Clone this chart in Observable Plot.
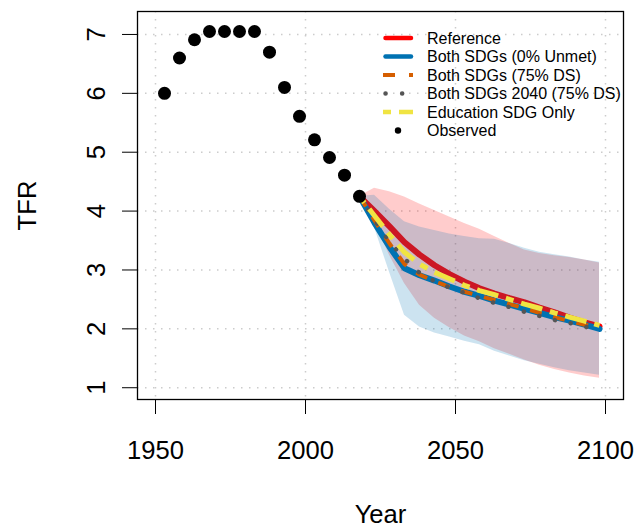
<!DOCTYPE html>
<html>
<head>
<meta charset="utf-8">
<script src="https://cdn.jsdelivr.net/npm/d3@7"></script>
<script src="https://cdn.jsdelivr.net/npm/@observablehq/plot@0.6"></script>
<style>
  html, body { margin: 0; padding: 0; background: white; }
  #wrap { position: relative; width: 639px; height: 527px; font-family: "Liberation Sans", Arial, Helvetica, sans-serif; }
  #legend { position: absolute; left: 0; top: 0; pointer-events: none; }
</style>
</head>
<body>
<div id="wrap"></div>
<script>
// Observed TFR
const obsYears = [1953, 1958, 1963, 1968, 1973, 1978, 1983, 1988, 1993, 1998, 2003, 2008, 2013, 2018];
const obsTFR   = [6.00, 6.60, 6.91, 7.05, 7.05, 7.05, 7.05, 6.70, 6.10, 5.61, 5.21, 4.91, 4.61, 4.25];

// Projections
const projYears = [2018, 2023, 2028, 2033, 2038, 2043, 2048, 2053, 2058, 2063, 2068, 2073, 2078, 2083, 2088, 2093, 2098];
const reference = [4.25, 4.00, 3.74, 3.47, 3.26, 3.08, 2.93, 2.80, 2.69, 2.60, 2.52, 2.45, 2.36, 2.28, 2.19, 2.11, 2.04];
const bothUnmet = [4.25, 3.80, 3.39, 3.03, 2.91, 2.82, 2.72, 2.63, 2.56, 2.48, 2.41, 2.34, 2.27, 2.20, 2.14, 2.07, 2.00];
const both75DS  = [4.25, 3.84, 3.45, 3.10, 2.92, 2.81, 2.71, 2.63, 2.56, 2.49, 2.42, 2.35, 2.27, 2.20, 2.13, 2.07, 2.01];
const both2040  = [4.25, 3.85, 3.48, 3.19, 2.95, 2.81, 2.70, 2.61, 2.52, 2.44, 2.37, 2.29, 2.22, 2.15, 2.10, 2.04, 1.98];
const eduOnly   = [4.25, 3.92, 3.60, 3.30, 3.10, 2.96, 2.85, 2.74, 2.65, 2.58, 2.50, 2.42, 2.35, 2.27, 2.20, 2.13, 2.06];

// Uncertainty bands
const refHi = [4.25, 4.39, 4.33, 4.24, 4.12, 4.01, 3.90, 3.79, 3.69, 3.57, 3.45, 3.34, 3.28, 3.24, 3.21, 3.17, 3.12];
const refLo = [4.25, 3.82, 3.25, 2.77, 2.40, 2.18, 2.02, 1.88, 1.78, 1.66, 1.57, 1.47, 1.38, 1.31, 1.25, 1.20, 1.16];
const sdgHi = [4.25, 4.27, 4.03, 3.82, 3.73, 3.67, 3.61, 3.57, 3.53, 3.52, 3.45, 3.37, 3.30, 3.26, 3.22, 3.17, 3.13];
const sdgLo = [4.25, 3.72, 2.96, 2.23, 2.03, 1.93, 1.86, 1.79, 1.73, 1.62, 1.54, 1.46, 1.40, 1.34, 1.29, 1.25, 1.21];

// Ticks
const xTicks = [1950, 2000, 2050, 2100];
const yTicks = [1, 2, 3, 4, 5, 6, 7];

// Legend
const legendLabels = ["Reference", "Both SDGs (0% Unmet)", "Both SDGs (75% DS)", "Both SDGs 2040 (75% DS)", "Education SDG Only", "Observed"];

const observed = obsYears.map((year, i) => ({year, tfr: obsTFR[i]}));
const proj = projYears.map((year, i) => ({
  year,
  reference: reference[i], bothUnmet: bothUnmet[i], both75DS: both75DS[i],
  both2040: both2040[i], eduOnly: eduOnly[i],
  refHi: refHi[i], refLo: refLo[i], sdgHi: sdgHi[i], sdgLo: sdgLo[i]
}));

const FONT = "Liberation Sans, Arial, Helvetica, sans-serif";
const RED = "#FF0000", BLUE = "#0072B2", ORANGE = "#D55E00", GRAY = "#555555", YELLOW = "#F0E442";

const chart = Plot.plot({
  width: 639,
  height: 527,
  marginLeft: 137,
  marginRight: 16,
  marginTop: 11,
  marginBottom: 128,
  style: {fontFamily: FONT, color: "black", background: "white", overflow: "visible"},
  x: {domain: [1944, 2106]},
  y: {domain: [0.8, 7.39]},
  marks: [
    Plot.gridX(xTicks, {stroke: "#cccccc", strokeOpacity: 1, strokeWidth: 1.5, strokeDasharray: "1.5,6.5"}),
    Plot.gridY(yTicks, {stroke: "#cccccc", strokeOpacity: 1, strokeWidth: 1.5, strokeDasharray: "1.5,6.5"}),
    Plot.line(proj, {x: "year", y: "reference", stroke: RED, strokeWidth: 6}),
    Plot.areaY(proj, {x: "year", y1: "refLo", y2: "refHi", fill: RED, fillOpacity: 0.2}),
    Plot.areaY(proj, {x: "year", y1: "sdgLo", y2: "sdgHi", fill: BLUE, fillOpacity: 0.2}),
    Plot.line(proj, {x: "year", y: "bothUnmet", stroke: BLUE, strokeWidth: 6}),
    Plot.line(proj, {x: "year", y: "both75DS", stroke: ORANGE, strokeWidth: 4, strokeDasharray: "12,12", strokeLinecap: "butt"}),
    Plot.line(proj, {x: "year", y: "both2040", stroke: GRAY, strokeWidth: 4.5, strokeDasharray: "0.1,16", strokeLinecap: "round"}),
    Plot.line(proj, {x: "year", y: "eduOnly", stroke: YELLOW, strokeWidth: 5, strokeDasharray: "8,8,22,8", strokeLinecap: "butt"}),
    Plot.dot(observed, {x: "year", y: "tfr", r: 6.5, fill: "black", stroke: null}),
    Plot.frame({stroke: "black", strokeWidth: 1.3}),
    Plot.axisX(xTicks, {tickSize: 15, tickPadding: 26, fontSize: 25.6, tickFormat: d => String(d),
      label: "Year", labelAnchor: "center", labelOffset: 123, labelArrow: "none"}),
    Plot.axisY(yTicks, {tickSize: 15, tickPadding: 18, tickRotate: -90, fontSize: 25.6, tickFormat: d => String(d),
      label: "TFR", labelAnchor: "center", labelOffset: 120, labelArrow: "none"})
  ]
});

const wrap = document.getElementById("wrap");
wrap.appendChild(chart);

// Legend (no box), drawn inside the plotting region
const styles = [
  {stroke: RED, width: 4.5, dash: null, cap: "round"},
  {stroke: BLUE, width: 4.5, dash: null, cap: "round"},
  {stroke: ORANGE, width: 4, dash: "12,14", cap: "butt"},
  {stroke: GRAY, width: 4.5, dash: "0.1,16.5", cap: "round"},
  {stroke: YELLOW, width: 4.5, dash: "8,8,22,8", cap: "butt"},
  {dot: true}
];
const svgNS = "http://www.w3.org/2000/svg";
const leg = document.createElementNS(svgNS, "svg");
leg.setAttribute("id", "legend");
leg.setAttribute("width", 639);
leg.setAttribute("height", 527);
const rowY0 = 38, rowDY = 18.5;
legendLabels.forEach((lab, i) => {
  const y = rowY0 + i * rowDY;
  const s = styles[i];
  if (s.dot) {
    const c = document.createElementNS(svgNS, "circle");
    c.setAttribute("cx", 398); c.setAttribute("cy", y); c.setAttribute("r", 3.2);
    c.setAttribute("fill", "black");
    leg.appendChild(c);
  } else {
    const l = document.createElementNS(svgNS, "line");
    const x1 = s.cap === "round" ? 385.5 : 383;
    const x2 = s.cap === "round" ? 411 : 413;
    l.setAttribute("x1", x1); l.setAttribute("x2", x2);
    l.setAttribute("y1", y); l.setAttribute("y2", y);
    l.setAttribute("stroke", s.stroke);
    l.setAttribute("stroke-width", s.width);
    l.setAttribute("stroke-linecap", s.cap);
    if (s.dash) l.setAttribute("stroke-dasharray", s.dash);
    leg.appendChild(l);
  }
  const t = document.createElementNS(svgNS, "text");
  t.setAttribute("x", 427); t.setAttribute("y", y);
  t.setAttribute("dy", "0.36em");
  t.setAttribute("font-family", FONT);
  t.setAttribute("font-size", 16);
  t.setAttribute("fill", "black");
  t.textContent = lab;
  leg.appendChild(t);
});
wrap.appendChild(leg);
</script>
</body>
</html>
